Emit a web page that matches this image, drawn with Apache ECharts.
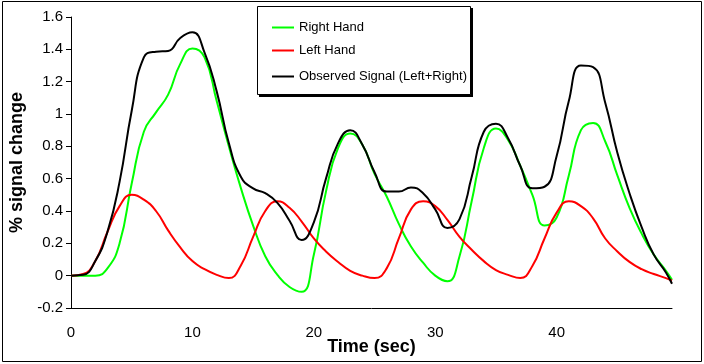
<!DOCTYPE html>
<html>
<head>
<meta charset="utf-8">
<script src="https://cdn.jsdelivr.net/npm/echarts@6/dist/echarts.min.js"></script>
<style>html,body{margin:0;padding:0;background:#fff}#c{width:704px;height:364px}</style>
</head>
<body>
<div id="c"></div>
<script>
// Time (sec)
const times = [0,1,2,3,4,5,6,7,8,9,10,11,12,13,14,15,16,17,18,19,20,21,22,23,24,25,26,27,28,29,30,31,32,33,34,35,36,37,38,39,40,41,42,43,44,45,46,47,48,49,49.5];
const rightHand = [0,0,0,0.045,0.20,0.57,0.89,1.01,1.12,1.31,1.405,1.35,1.08,0.80,0.54,0.31,0.12,0.005,-0.07,-0.10,0.13,0.52,0.79,0.88,0.81,0.63,0.49,0.32,0.18,0.08,0.0,-0.035,0.12,0.46,0.79,0.91,0.84,0.68,0.50,0.31,0.36,0.62,0.90,0.945,0.83,0.62,0.42,0.26,0.13,0.03,-0.025];
const leftHand = [0,0.01,0.09,0.27,0.43,0.50,0.47,0.40,0.28,0.175,0.09,0.04,0.005,-0.015,0.065,0.24,0.40,0.46,0.42,0.335,0.23,0.15,0.085,0.03,0.0,-0.015,0.045,0.23,0.41,0.46,0.43,0.345,0.24,0.16,0.09,0.035,0.005,-0.015,0.06,0.23,0.39,0.46,0.43,0.355,0.23,0.15,0.085,0.04,0.01,-0.015,-0.03];
const observed = [0,0.005,0.09,0.27,0.58,1.02,1.35,1.385,1.39,1.47,1.505,1.38,1.14,0.82,0.61,0.54,0.51,0.45,0.34,0.22,0.33,0.60,0.82,0.90,0.81,0.64,0.52,0.52,0.546,0.51,0.41,0.295,0.35,0.61,0.89,0.94,0.85,0.68,0.54,0.55,0.74,1.08,1.30,1.29,1.07,0.76,0.51,0.30,0.13,0.02,-0.05];
const seriesNames = ['Right Hand','Left Hand','Observed Signal (Left+Right)'];
const seriesColors = ['#00ff00','#ff0000','#000000'];

const chart = echarts.init(document.getElementById('c'), null, {renderer:'canvas'});
const vals = [rightHand, leftHand, observed];
const font = 'Arial, "Liberation Sans", sans-serif';
const legendTops = [21, 44, 70];
chart.setOption({
  animation: false,
  backgroundColor: '#fff',
  grid: {left: 71, right: 32, top: 17, bottom: 56, containLabel: false, outerBoundsMode: 'none'},
  xAxis: {
    type: 'value', min: 0, max: 49.5, interval: 10,
    name: 'Time (sec)', nameLocation: 'middle', nameGap: 30, nameMoveOverlap: false,
    nameTextStyle: {fontFamily: font, fontSize: 18, fontWeight: 'bold', color: '#000'},
    axisLine: {show: true, onZero: false, lineStyle: {color: '#000', width: 1}},
    axisTick: {show: false},
    splitLine: {show: false},
    axisLabel: {fontFamily: font, fontSize: 15, color: '#000', margin: 17, showMaxLabel: false,
      formatter: v => (v % 10 === 0 ? String(v) : '')}
  },
  yAxis: {
    type: 'value', min: -0.2, max: 1.6, interval: 0.2,
    name: '% signal change', nameLocation: 'middle', nameGap: 45, nameRotate: 90, nameMoveOverlap: false,
    nameTextStyle: {fontFamily: font, fontSize: 18, fontWeight: 'bold', color: '#000'},
    axisLine: {show: true, onZero: false, lineStyle: {color: '#000', width: 1}},
    axisTick: {show: true, length: 5, lineStyle: {color: '#000'}},
    splitLine: {show: false},
    axisLabel: {fontFamily: font, fontSize: 15, color: '#000', margin: 8,
      formatter: v => String(Math.round(v * 10) / 10)}
  },
  legend: seriesNames.map((n, i) => ({
    data: [n], left: 272, top: legendTops[i], orient: 'vertical', padding: 0,
    icon: 'rect', itemWidth: 22, itemHeight: 2,
    textStyle: {fontFamily: font, fontSize: 13, color: '#000'},
    selectedMode: false, z: 10
  })),
  graphic: [
    {type: 'rect', shape: {x: 2.5, y: 1.5, width: 699, height: 360}, style: {fill: null, stroke: '#000', lineWidth: 1}, z: 0, silent: true},
    {type: 'rect', shape: {x: 259, y: 8, width: 214, height: 89}, style: {fill: '#000'}, z: 5, silent: true},
    {type: 'rect', shape: {x: 257.5, y: 6.5, width: 213, height: 88}, style: {fill: '#fff', stroke: '#000', lineWidth: 1}, z: 6, silent: true}
  ],
  series: vals.map((arr, i) => ({
    name: seriesNames[i], type: 'line', showSymbol: false, smooth: 0.5,
    lineStyle: {color: seriesColors[i], width: 2}, itemStyle: {color: seriesColors[i]},
    data: times.map((t, k) => [t, arr[k]]), z: 2 + i
  }))
});
</script>
</body>
</html>
